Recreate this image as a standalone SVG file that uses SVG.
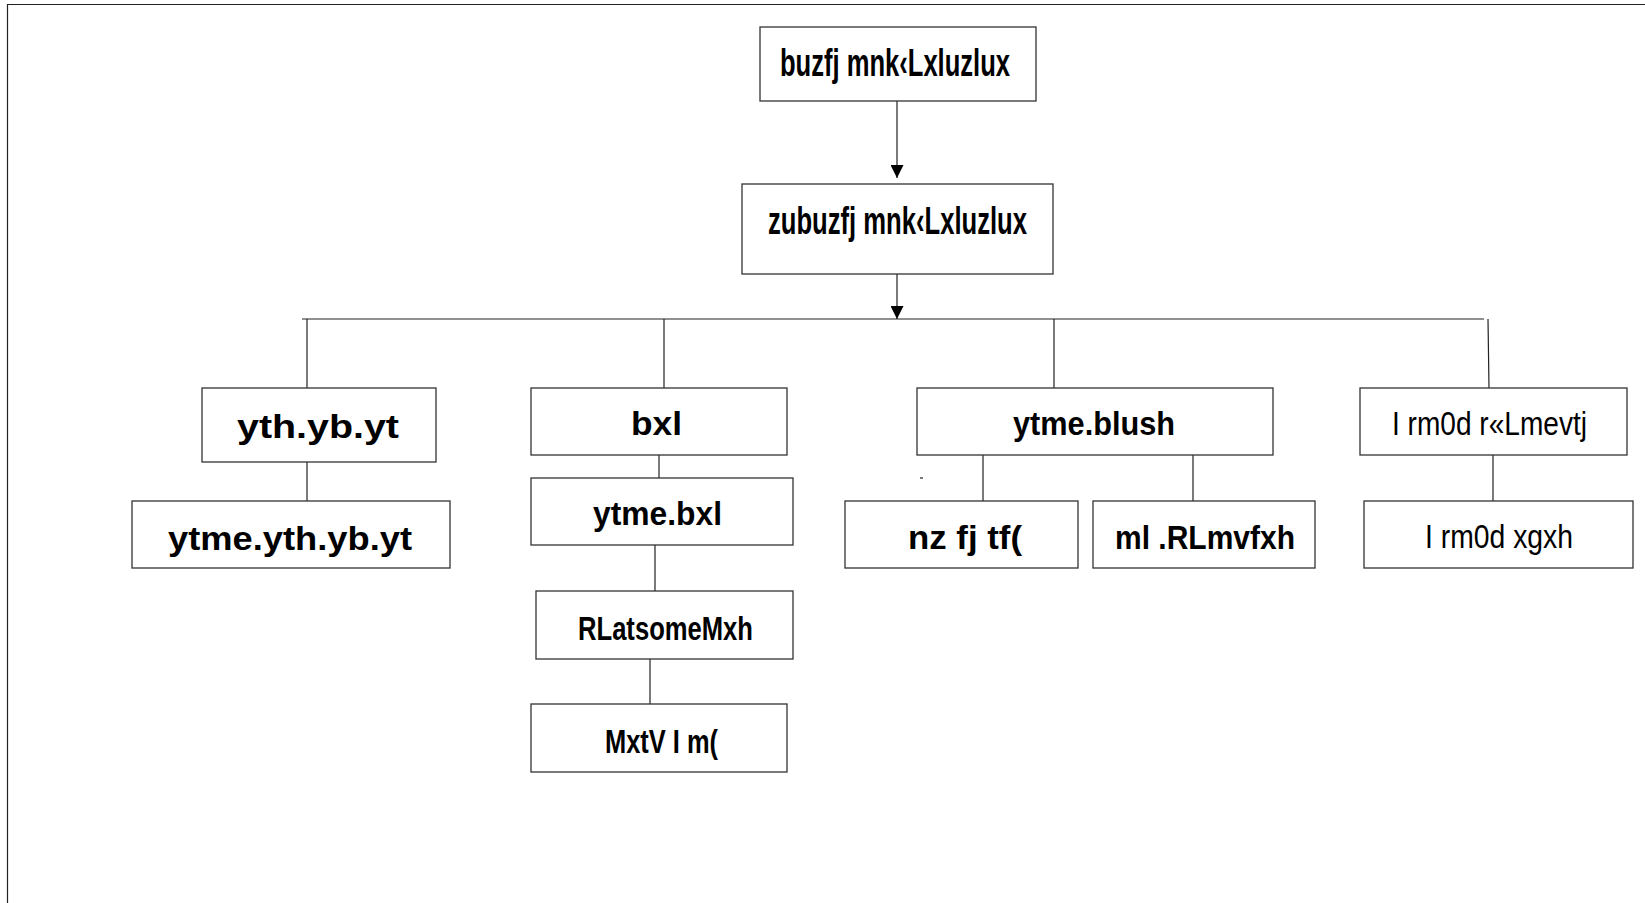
<svg xmlns="http://www.w3.org/2000/svg" width="1645" height="903" viewBox="0 0 1645 903">
<style>
.box{fill:#fff;stroke:#333;stroke-width:1.3}
.ln{stroke:#222;stroke-width:1.2;fill:none}
.t{font-family:"Liberation Sans",Arial,sans-serif;font-weight:bold;fill:#000}
.r{font-family:"Liberation Sans",Arial,sans-serif;font-weight:normal;fill:#000}
</style>
<defs>
<marker id="ah" viewBox="0 0 10 10" refX="10" refY="5" markerWidth="13" markerHeight="13" markerUnits="userSpaceOnUse" orient="auto">
<path d="M0,0 L10,5 L0,10 z" fill="#000"/>
</marker>
</defs>
<rect x="0" y="0" width="1645" height="903" fill="#fff"/>
<path class="ln" d="M7.5,903 V4.5 H1645"/>
<g id="connectors">
<line class="ln" x1="897" y1="101" x2="897" y2="178" marker-end="url(#ah)"/>
<line class="ln" x1="897" y1="274" x2="897" y2="319" marker-end="url(#ah)"/>
<line class="ln" x1="302" y1="319" x2="1484" y2="319"/>
<line class="ln" x1="307" y1="319" x2="307" y2="388"/>
<line class="ln" x1="664" y1="319" x2="664" y2="388"/>
<line class="ln" x1="1054" y1="319" x2="1054" y2="388"/>
<line class="ln" x1="1488" y1="319" x2="1489" y2="388"/>
<line class="ln" x1="307" y1="462" x2="307" y2="501"/>
<line class="ln" x1="659" y1="455" x2="659" y2="478"/>
<line class="ln" x1="655" y1="545" x2="655" y2="591"/>
<line class="ln" x1="650" y1="659" x2="650" y2="704"/>
<line class="ln" x1="983" y1="455" x2="983" y2="501"/>
<line class="ln" x1="1193" y1="455" x2="1193" y2="501"/>
<line class="ln" x1="1493" y1="455" x2="1493" y2="501"/>
<line class="ln" x1="920" y1="478" x2="923" y2="478"/>
</g>
<g id="n1"><rect class="box" x="760" y="27" width="276" height="74"/><text class="t" x="780" y="76" font-size="38" textLength="230" lengthAdjust="spacingAndGlyphs">buzfj mnk‹Lxluzlux</text></g>
<g id="n2"><rect class="box" x="742" y="184" width="311" height="90"/><text class="t" x="768" y="234" font-size="39" textLength="259" lengthAdjust="spacingAndGlyphs">zubuzfj mnk‹Lxluzlux</text></g>
<g id="n3"><rect class="box" x="202" y="388" width="234" height="74"/><text class="t" x="237" y="438" font-size="34" textLength="162" lengthAdjust="spacingAndGlyphs">yth.yb.yt</text></g>
<g id="n4"><rect class="box" x="531" y="388" width="256" height="67"/><text class="t" x="631" y="435" font-size="34" textLength="51" lengthAdjust="spacingAndGlyphs">bxl</text></g>
<g id="n5"><rect class="box" x="917" y="388" width="356" height="67"/><text class="t" x="1013" y="435" font-size="34" textLength="162" lengthAdjust="spacingAndGlyphs">ytme.blush</text></g>
<g id="n6"><rect class="box" x="1360" y="388" width="267" height="67"/><text class="r" x="1392" y="435" font-size="34" textLength="195" lengthAdjust="spacingAndGlyphs">I rm0d r«Lmevtj</text></g>
<g id="n7"><rect class="box" x="132" y="501" width="318" height="67"/><text class="t" x="168" y="550" font-size="34" textLength="244" lengthAdjust="spacingAndGlyphs">ytme.yth.yb.yt</text></g>
<g id="n8"><rect class="box" x="531" y="478" width="262" height="67"/><text class="t" x="593" y="525" font-size="34" textLength="129" lengthAdjust="spacingAndGlyphs">ytme.bxl</text></g>
<g id="n9"><rect class="box" x="845" y="501" width="233" height="67"/><text class="t" x="908" y="549" font-size="34" textLength="114" lengthAdjust="spacingAndGlyphs">nz fj tf(</text></g>
<g id="n10"><rect class="box" x="1093" y="501" width="222" height="67"/><text class="t" x="1115" y="549" font-size="34" textLength="180" lengthAdjust="spacingAndGlyphs">ml .RLmvfxh</text></g>
<g id="n11"><rect class="box" x="1364" y="501" width="269" height="67"/><text class="r" x="1425" y="548" font-size="34" textLength="148" lengthAdjust="spacingAndGlyphs">I rm0d xgxh</text></g>
<g id="n12"><rect class="box" x="536" y="591" width="257" height="68"/><text class="t" x="578" y="640" font-size="34" textLength="175" lengthAdjust="spacingAndGlyphs">RLatsomeMxh</text></g>
<g id="n13"><rect class="box" x="531" y="704" width="256" height="68"/><text class="t" x="605" y="753" font-size="34" textLength="113" lengthAdjust="spacingAndGlyphs">MxtV I m(</text></g>
</svg>
